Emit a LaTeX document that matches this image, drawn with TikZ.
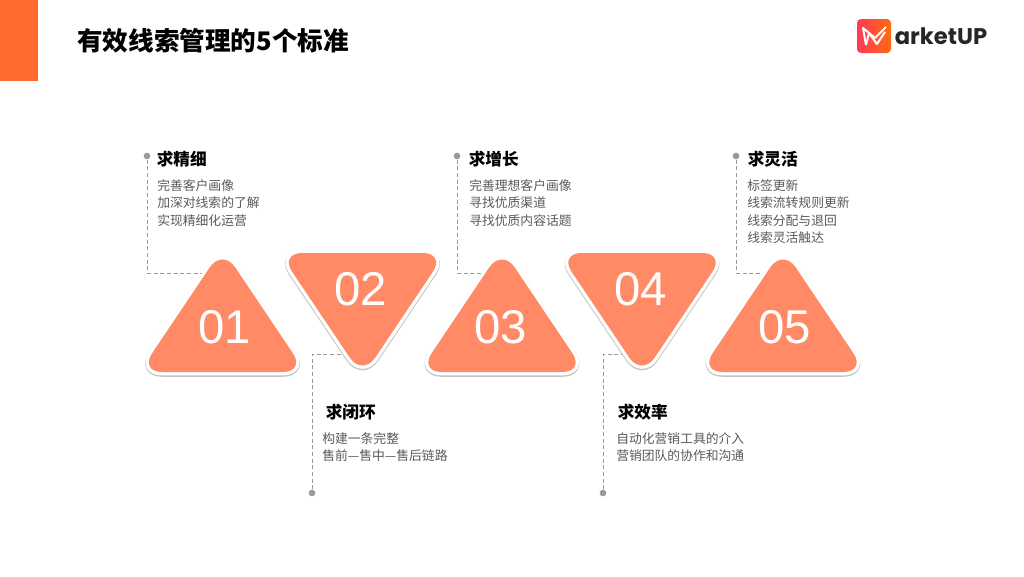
\documentclass[tikz,border=0pt]{standalone}
\usepackage{fontspec}
\setmainfont{Noto Sans CJK SC}
\newfontfamily\numfont{Liberation Sans}
\newfontfamily\logofont{Poppins}
\definecolor{barorange}{HTML}{FF6B2E}
\definecolor{triorange}{HTML}{FF8A65}
\definecolor{shadowgray}{HTML}{C4C4C4}
\definecolor{dotgray}{HTML}{999999}
\definecolor{bodygray}{HTML}{595959}
\definecolor{logored}{HTML}{FF3A57}
\definecolor{logoorange}{HTML}{FF6A10}
\usetikzlibrary{positioning}

\begin{document}
\begin{tikzpicture}[x=0.75pt, y=-0.75pt,
    tri/.style={fill=triorange, rounded corners=17pt, line join=round,
        preaction={draw=shadowgray, line width=5.6pt, transform canvas={yshift=-0.8pt}},
        preaction={draw=white, line width=5pt}},
    num/.style={text=white, font=\numfont\fontsize{35.5}{36}\selectfont, inner sep=0pt},
    dot/.style={circle, fill=dotgray, inner sep=0pt, minimum size=5pt},
    conn/.style={draw=dotgray, line width=0.7pt, dash pattern=on 3pt off 2pt},
    head/.style={anchor=west, inner sep=0pt, font=\fontsize{12.5}{14}\selectfont\bfseries},
    body/.style={anchor=north west, inner sep=0pt, align=left, text=bodygray, font=\fontsize{9.6}{13.1}\selectfont}
]
\useasboundingbox (0,0) rectangle (1024,576);

% Cabecera
\fill[barorange] (0,0) rectangle (38,81);
\node[anchor=west, inner sep=0pt, font=\fontsize{19.2}{22}\selectfont\bfseries] (title) at (77,41) {有效线索管理的5个标准};

% Logo
\shade[rounded corners=3pt, left color=logored, right color=logoorange] (857,19) rectangle (891,53);
\draw[white, line width=1.5pt, line join=round] (866,45) -- (863,28) -- (875,38) -- (886,27);
\draw[white, line width=1.5pt, line join=round] (866,45) -- (869,33) -- (877,44) -- (885,32);
\node[anchor=west, inner sep=0pt, text=black!85, font=\logofont\bfseries\fontsize{17}{18}\selectfont] (logo) at (894.5,36) {arketUP};

% Puntos y extremos de las lineas
\node[dot] (dota) at (147,156) {};
\node[dot] (dotb) at (312,493) {};
\node[dot] (dotc) at (457,156) {};
\node[dot] (dotd) at (603,493) {};
\node[dot] (dote) at (736,156) {};
\coordinate (enda) at (215,273);
\coordinate (endb) at (350,354);
\coordinate (endc) at (490,273);
\coordinate (endd) at (630,354);
\coordinate (ende) at (770,273);

% Lineas punteadas
\draw[conn] (dota) |- (enda);
\draw[conn] (dotb) |- (endb);
\draw[conn] (dotc) |- (endc);
\draw[conn] (dotd) |- (endd);
\draw[conn] (dote) |- (ende);

% Triangulos
\path[tri] (222.5,248.5) -- (305.5,372) -- (139.5,372) -- cycle;
\path[tri] (279.5,253) -- (445.5,253) -- (362.5,376.5) -- cycle;
\path[tri] (502,248.5) -- (585,372) -- (419,372) -- cycle;
\path[tri] (559,253) -- (725,253) -- (642,376.5) -- cycle;
\path[tri] (783,248.5) -- (866,372) -- (700,372) -- cycle;

% Numeros
\node[num] (numa) at (224.5,327) {01};
\node[num] (numb) at (360.5,289) {02};
\node[num] (numc) at (500.5,327) {03};
\node[num] (numd) at (640.5,289) {04};
\node[num] (nume) at (784.5,327) {05};

% Titulos
\node[head] (heada) at (156.5,159) {求精细};
\node[head] (headb) at (325.5,412) {求闭环};
\node[head] (headc) at (468.5,159) {求增长};
\node[head] (headd) at (617.5,412) {求效率};
\node[head] (heade) at (747.5,159) {求灵活};

% Textos
\node[body] (bodya) at (157,179) {完善客户画像\\加深对线索的了解\\实现精细化运营};
\node[body] (bodyb) at (322,432) {构建一条完整\\售前—售中—售后链路};
\node[body] (bodyc) at (469,179) {完善理想客户画像\\寻找优质渠道\\寻找优质内容话题};
\node[body] (bodyd) at (616,432) {自动化营销工具的介入\\营销团队的协作和沟通};
\node[body] (bodye) at (747,179) {标签更新\\线索流转规则更新\\线索分配与退回\\线索灵活触达};
\end{tikzpicture}
\end{document}
